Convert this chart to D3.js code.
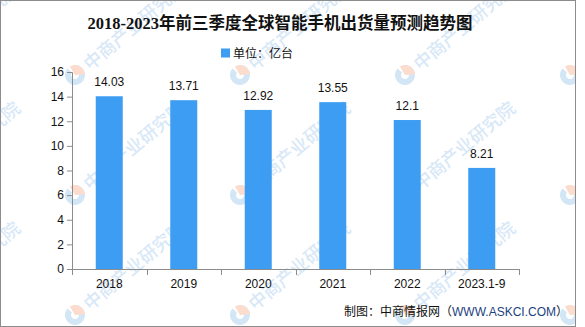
<!DOCTYPE html>
<html>
<head>
<meta charset="utf-8">
<script src="https://cdn.jsdelivr.net/npm/d3@7"></script>
<style>
  html, body { margin: 0; padding: 0; background: #fff; }
  svg { display: block; }
</style>
</head>
<body>
<div id="chart"></div>
<script>
// Shipment data (unit: 100 million units)
const categories = ["2018", "2019", "2020", "2021", "2022", "2023.1-9"];
const shipments = [14.03, 13.71, 12.92, 13.55, 12.1, 8.21];
const valueLabels = ["14.03", "13.71", "12.92", "13.55", "12.1", "8.21"];
const yTicks = [0, 2, 4, 6, 8, 10, 12, 14, 16];

const titleText = "2018-2023年前三季度全球智能手机出货量预测趋势图";
const legendText = "单位：亿台";
const width = 585, height = 327;
const margin = { left: 72, right: 66, top: 72, bottom: 58 };

const svg = d3.select("#chart").append("svg")
  .attr("width", width).attr("height", height);

svg.append("rect").attr("x", 0).attr("y", 0).attr("width", width).attr("height", height).attr("fill", "#fff");

// Brand watermark tiles, clipped to the frame
svg.append("clipPath").attr("id", "frameClip")
  .append("rect").attr("x", 0).attr("y", 0).attr("width", 576).attr("height", 327);
const wmX = [-90, 75, 240, 405, 570];
const wmY = [-45, 75, 195, 315];
const wm = svg.append("g").attr("class", "watermark").attr("clip-path", "url(#frameClip)");
wmX.forEach(x => wmY.forEach(y => {
  const g = wm.append("g").attr("transform", `translate(${x},${y}) rotate(-40)`);
  const r = 10;
  g.append("path")
    .attr("d", d3.arc().innerRadius(4).outerRadius(r).startAngle(Math.PI * 0.15).endAngle(Math.PI * 1.95)())
    .attr("fill", "#d3e6f6");
  g.append("path")
    .attr("d", d3.arc().innerRadius(0).outerRadius(r).startAngle(Math.PI * 0.05).endAngle(Math.PI * 0.7)())
    .attr("fill", "#fbdccd");
  g.append("text")
    .attr("x", 14).attr("y", 7)
    .attr("font-family", "'Noto Sans CJK SC', sans-serif")
    .attr("font-weight", "500")
    .attr("font-size", 18)
    .attr("fill", "#d8e8f7")
    .text("中商产业研究院");
}));

// Outer frame
svg.append("rect")
  .attr("x", 0.5).attr("y", 0.5).attr("width", 575).attr("height", 326)
  .attr("fill", "none").attr("stroke", "#8c8c8c").attr("stroke-width", 1);

// Title
svg.append("text")
  .attr("x", 280).attr("y", 29)
  .attr("text-anchor", "middle")
  .attr("font-family", "'Liberation Serif', 'Noto Sans CJK SC', serif")
  .attr("font-weight", "bold")
  .attr("font-size", 16.5)
  .attr("fill", "#111")
  .text(titleText);

// Legend
svg.append("rect").attr("x", 221).attr("y", 48.5).attr("width", 9).attr("height", 9).attr("fill", "#3d9df3");
svg.append("text")
  .attr("x", 233).attr("y", 57.5)
  .attr("font-family", "'Noto Sans CJK SC', sans-serif")
  .attr("font-size", 12)
  .attr("fill", "#111")
  .text(legendText);

const x = d3.scaleBand()
  .domain(categories)
  .range([margin.left, width - margin.right])
  .paddingInner(0).paddingOuter(0);

const y = d3.scaleLinear()
  .domain([0, 16])
  .range([height - margin.bottom, margin.top]);

const barW = 27;

// Bars
svg.append("g").selectAll("rect")
  .data(categories)
  .join("rect")
  .attr("x", (d) => x(d) + x.bandwidth() / 2 - barW / 2)
  .attr("y", (d, i) => y(shipments[i]))
  .attr("width", barW)
  .attr("height", (d, i) => y(0) - y(shipments[i]))
  .attr("fill", "#3d9df3");

// Value labels
svg.append("g").selectAll("text")
  .data(categories)
  .join("text")
  .attr("x", (d) => x(d) + x.bandwidth() / 2)
  .attr("y", (d, i) => y(shipments[i]) - 10)
  .attr("text-anchor", "middle")
  .attr("font-family", "'Liberation Sans', sans-serif")
  .attr("font-size", 12)
  .attr("fill", "#111")
  .text((d, i) => valueLabels[i]);

// Y axis
const yAxis = svg.append("g")
  .attr("transform", `translate(${margin.left},0)`)
  .call(d3.axisLeft(y).tickValues(yTicks).tickSize(5).tickPadding(3).tickFormat(d3.format("d")));
yAxis.select(".domain").attr("stroke", "#8c8c8c");
yAxis.selectAll(".tick line").attr("stroke", "#8c8c8c");
yAxis.selectAll(".tick text")
  .attr("font-family", "'Liberation Sans', sans-serif")
  .attr("font-size", 12).attr("fill", "#111");

// X axis with ticks on band boundaries
const xAxis = svg.append("g")
  .attr("transform", `translate(0,${height - margin.bottom})`);
xAxis.append("line")
  .attr("x1", margin.left - 5).attr("x2", width - margin.right)
  .attr("y1", 0.5).attr("y2", 0.5)
  .attr("stroke", "#8c8c8c");
const edges = categories.map(c => x(c)).concat([x(categories[categories.length - 1]) + x.bandwidth()]);
xAxis.selectAll("line.tk")
  .data(edges)
  .join("line")
  .attr("class", "tk")
  .attr("x1", d => Math.round(d) + 0.5).attr("x2", d => Math.round(d) + 0.5)
  .attr("y1", 0).attr("y2", 6)
  .attr("stroke", "#8c8c8c");
xAxis.selectAll("text")
  .data(categories)
  .join("text")
  .attr("x", d => x(d) + x.bandwidth() / 2)
  .attr("y", 19)
  .attr("text-anchor", "middle")
  .attr("font-family", "'Liberation Sans', sans-serif")
  .attr("font-size", 12)
  .attr("fill", "#111")
  .text(d => d);

// Source note
const src = svg.append("text")
  .attr("x", 568).attr("y", 316)
  .attr("text-anchor", "end")
  .attr("font-family", "'Noto Sans CJK SC', sans-serif")
  .attr("font-size", 12)
  .attr("fill", "#111");
src.append("tspan").text("制图：中商情报网（");
src.append("tspan").attr("font-family", "'Liberation Sans', sans-serif").attr("fill", "#1d3f7f").text("WWW.ASKCI.COM");
src.append("tspan").text("）");
</script>
</body>
</html>
